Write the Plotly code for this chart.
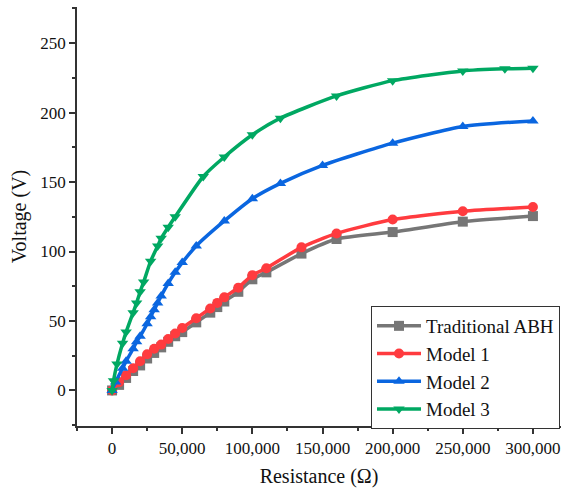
import plotly.graph_objects as go

# Data
r_abh = [0, 5000, 10000, 15000, 20000, 25000, 30000, 35000, 40000, 45000, 50000, 60000, 70000, 75000, 80000, 90000, 100000, 110000, 135000, 160000, 200000, 250000, 300000]
v_abh = [0, 4, 9, 14, 18, 23, 27, 31, 35, 39, 42, 49, 56, 60, 64, 71, 80, 85, 98.5, 109, 114, 121.5, 125.5]

r_m1 = [0, 5000, 10000, 15000, 20000, 25000, 30000, 35000, 40000, 45000, 50000, 60000, 70000, 75000, 80000, 90000, 100000, 110000, 135000, 160000, 200000, 250000, 300000]
v_m1 = [0, 6, 11, 16, 21, 26, 30, 33, 37, 41, 45, 52, 59, 63, 67, 74, 83, 88, 103, 113, 123, 129, 132]

r_m2 = [0, 2500, 7500, 10000, 15000, 17500, 20000, 25000, 27500, 30000, 32500, 35000, 40000, 45000, 50000, 60000, 80000, 100000, 120000, 150000, 200000, 250000, 300000]
v_m2 = [0, 6, 16, 21, 30, 35, 39, 48, 53, 58, 63, 68, 77, 85, 92, 104, 122, 138, 149, 162, 178, 190, 194]

r_m3 = [0, 1000, 3500, 7500, 10000, 15000, 17500, 20000, 22500, 27500, 32500, 35000, 40000, 45000, 65000, 80000, 100000, 120000, 160000, 200000, 250000, 280000, 300000]
v_m3 = [0, 7, 19, 34, 42, 56, 63, 71, 78, 93, 104, 109.5, 117.5, 125, 154, 168, 184, 196, 212, 223, 230, 231.5, 232]

names = ["Traditional ABH", "Model 1", "Model 2", "Model 3"]
colors = ["#767676", "#ff3b3f", "#0a66e0", "#00a862"]
symbols = ["square", "circle", "triangle-up", "triangle-down"]

SERIF = "Liberation Serif, DejaVu Serif"

fig = go.Figure()
for r, v, n, c, s in zip([r_abh, r_m1, r_m2, r_m3], [v_abh, v_m1, v_m2, v_m3], names, colors, symbols):
    fig.add_trace(go.Scatter(
        x=r, y=v, name=n, mode="lines+markers",
        line=dict(color=c, width=3.5, shape="spline", smoothing=0.6),
        marker=dict(color=c, symbol=s, size=10, line=dict(width=0)),
    ))

axis_common = dict(
    showline=True, linecolor="#333333", linewidth=1.5,
    ticks="outside", ticklen=6, tickwidth=1.5, tickcolor="#333333",
    showgrid=False, zeroline=False, mirror=False, automargin=False,
    tickfont=dict(family=SERIF, size=17, color="#111111"),
)

fig.update_layout(
    width=561, height=493,
    margin=dict(l=77, r=0, t=7, b=67, autoexpand=False),
    paper_bgcolor="white", plot_bgcolor="white",
    font=dict(family=SERIF, color="#111111"),
    xaxis=dict(
        range=[-25000, 320000], tickvals=[0, 50000, 100000, 150000, 200000, 250000, 300000],
        tickformat=",d",
        minor=dict(dtick=25000, tick0=0, ticks="outside", ticklen=3, tickwidth=1.5, tickcolor="#333333"),
        title=dict(text="Resistance (Ω)", font=dict(family=SERIF, size=20), standoff=12),
        **axis_common,
    ),
    yaxis=dict(
        range=[-25.6, 276], tickvals=[0, 50, 100, 150, 200, 250],
        minor=dict(dtick=25, tick0=0, ticks="outside", ticklen=3, tickwidth=1.5, tickcolor="#333333"),
        title=dict(text="Voltage (V)", font=dict(family=SERIF, size=20), standoff=8),
        **axis_common,
    ),
    legend=dict(
        x=(371 - 77) / 484, y=(426 - 306) / 419, xanchor="left", yanchor="top",
        bgcolor="white", bordercolor="#333333", borderwidth=1,
        font=dict(family=SERIF, size=19, color="#111111"),
        tracegroupgap=0, itemwidth=44,
    ),
    showlegend=True,
)

fig.write_html("out.html")
